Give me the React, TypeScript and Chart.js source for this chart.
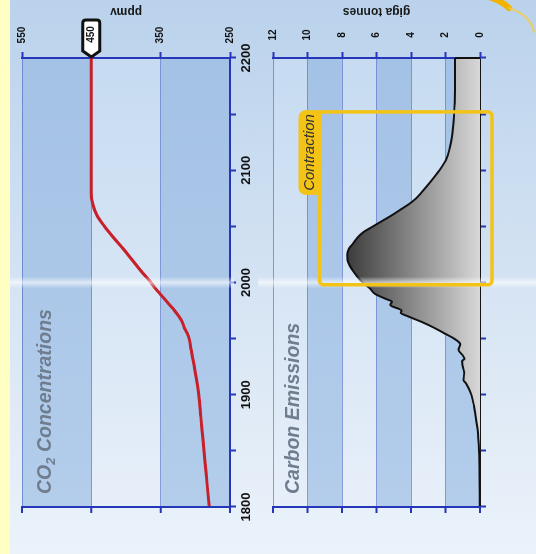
import React, { useEffect, useRef } from 'react';
import { Chart, registerables } from 'chart.js';

Chart.register(...registerables);

// Atmospheric CO2 concentration, ppmv
const co2Years = [1800, 1820, 1840, 1860, 1880, 1900, 1920, 1940, 1950, 1955, 1960, 1965, 1970, 1975, 1980, 1985, 1990, 1995, 2000, 2010, 2020, 2030, 2040, 2050, 2060, 2070, 2080, 2100, 2150, 2200];
const co2Ppmv = [280, 283, 286, 289, 292, 295, 300, 306, 309, 312, 316, 319, 324, 330, 337, 344, 351, 358, 364, 378, 391, 404, 418, 431, 442, 448, 450, 450, 450, 450];

// Carbon emissions, giga tonnes per year
const emissionYears = [1800, 1830, 1850, 1870, 1880, 1890, 1900, 1910, 1913, 1920, 1925, 1930, 1932, 1935, 1940, 1945, 1950, 1955, 1960, 1965, 1970, 1973, 1975, 1980, 1983, 1985, 1990, 1995, 2000, 2005, 2010, 2015, 2020, 2025, 2030, 2035, 2040, 2045, 2050, 2055, 2060, 2065, 2070, 2075, 2080, 2090, 2100, 2110, 2120, 2130, 2140, 2150, 2160, 2200];
const emissionGt = [0.01, 0.03, 0.06, 0.15, 0.25, 0.35, 0.5, 0.8, 0.95, 0.92, 1.0, 1.05, 0.9, 1.0, 1.25, 1.15, 1.5, 2.1, 2.7, 3.4, 4.2, 4.6, 4.55, 5.2, 5.1, 5.4, 6.1, 6.4, 6.8, 7.1, 7.35, 7.55, 7.68, 7.7, 7.6, 7.35, 7.1, 6.75, 6.2, 5.65, 5.1, 4.6, 4.1, 3.7, 3.4, 2.85, 2.35, 1.95, 1.75, 1.62, 1.55, 1.5, 1.47, 1.45];

// Axis ranges and tick labels
const yearRange = [1800, 2200];
const ppmvTicks = [250, 350, 450, 550];
const gtTicks = [0, 2, 4, 6, 8, 10, 12];
const stabilisedPpmv = 450;
const todayYear = 2000;

// Contraction period and its frame height (giga tonnes)
const contractionYears = [1998, 2152];
const contractionTopGt = 9.3;

const W = 554;
const H = 536;
const FONT = '"Liberation Sans", Arial, Helvetica, sans-serif';
const AXIS_BLUE = '#2536B8';
const GRID_BLUE = 'rgba(60,90,190,0.55)';
const TITLE_SIZE = 19.5;

function yearAxis(showLabels: boolean, borderColor: string) {
  return {
    type: 'linear',
    position: 'bottom',
    min: yearRange[0],
    max: yearRange[1],
    afterFit: (s: any) => { s.height = 30; },
    ticks: {
      stepSize: 50,
      autoSkip: false,
      maxRotation: 0,
      minRotation: 0,
      padding: 3,
      color: '#111',
      font: { family: FONT, size: 13, weight: 'bold' },
      callback: (v: any) => (showLabels && Number(v) % 100 === 0 ? String(v) : ''),
    },
    grid: { drawOnChartArea: false, drawTicks: true, tickLength: 6, tickColor: AXIS_BLUE, tickWidth: 2 },
    border: { display: true, color: borderColor, width: 2 },
  };
}

function valueAxis(ticks: number[], pad: number) {
  return {
    type: 'linear',
    position: 'right',
    min: ticks[0],
    max: ticks[ticks.length - 1],
    afterFit: (s: any) => { s.width = 46; },
    ticks: {
      stepSize: ticks[1] - ticks[0],
      padding: pad,
      crossAlign: 'center',
      color: '#111',
      font: { family: FONT, size: 10, weight: 'bold' },
    },
    grid: { color: GRID_BLUE, lineWidth: 1, tickLength: 6, tickColor: AXIS_BLUE, tickWidth: 2 },
    border: { display: true, color: AXIS_BLUE, width: 2 },
  };
}

// Alternating horizontal bands between value ticks, darker band first from the bottom
function bandsPlugin(ticks: number[]) {
  return {
    id: 'bands',
    beforeDraw(chart: any) {
      const { ctx, chartArea, scales } = chart;
      const { left, right } = chartArea;
      const dark = ctx.createLinearGradient(left, 0, right, 0);
      dark.addColorStop(0, '#B3CDEB');
      dark.addColorStop(1, '#A4C2E6');
      const light = ctx.createLinearGradient(left, 0, right, 0);
      light.addColorStop(0, '#E7EFF9');
      light.addColorStop(1, '#C6DBF1');
      ctx.save();
      for (let i = 0; i < ticks.length - 1; i++) {
        const top = scales.y.getPixelForValue(ticks[i + 1]);
        const bottom = scales.y.getPixelForValue(ticks[i]);
        ctx.fillStyle = i % 2 === 0 ? dark : light;
        ctx.fillRect(left, top, right - left, bottom - top);
      }
      ctx.restore();
    },
  };
}

// Left frame edge with outward tick marks
const leftFramePlugin = {
  id: 'leftFrame',
  afterDraw(chart: any) {
    const { ctx, chartArea, scales } = chart;
    const { left, top, bottom } = chartArea;
    ctx.save();
    ctx.strokeStyle = AXIS_BLUE;
    ctx.lineWidth = 2;
    ctx.beginPath();
    ctx.moveTo(left, top - 1);
    ctx.lineTo(left, bottom + 1);
    scales.y.ticks.forEach((t: any) => {
      const y = scales.y.getPixelForValue(t.value);
      ctx.moveTo(left - 6, y);
      ctx.lineTo(left, y);
    });
    ctx.stroke();
    ctx.restore();
  },
};

function drawUnit(ctx: any, text: string, v: number) {
  ctx.save();
  ctx.translate(543, v);
  ctx.rotate(-Math.PI / 2);
  ctx.font = `bold 12px ${FONT}`;
  ctx.fillStyle = '#1a1a1a';
  ctx.textAlign = 'center';
  ctx.textBaseline = 'middle';
  ctx.fillText(text, 0, 0);
  ctx.restore();
}

const co2Decor = {
  id: 'co2Decor',
  afterDraw(chart: any) {
    const { ctx, chartArea, scales } = chart;
    ctx.save();
    // panel title
    ctx.fillStyle = '#6F7D8E';
    ctx.textBaseline = 'alphabetic';
    const x0 = chartArea.left + 13;
    const base = chartArea.top + 29;
    ctx.font = `italic bold ${TITLE_SIZE}px ${FONT}`;
    ctx.fillText('CO', x0, base);
    let x = x0 + ctx.measureText('CO').width;
    ctx.font = `italic bold 13px ${FONT}`;
    ctx.fillText('2', x, base + 4);
    x += ctx.measureText('2').width;
    ctx.font = `italic bold ${TITLE_SIZE}px ${FONT}`;
    ctx.fillText(' Concentrations', x, base);
    ctx.restore();

    drawUnit(ctx, 'ppmv', (chartArea.top + chartArea.bottom) / 2);

    // stabilisation callout at the end of the line
    const v = scales.y.getPixelForValue(stabilisedPpmv);
    const tip = chartArea.right + 1;
    const l = tip + 6;
    const r = tip + 37;
    const hh = 8.5;
    ctx.save();
    ctx.beginPath();
    ctx.moveTo(tip, v);
    ctx.lineTo(l, v - hh);
    ctx.lineTo(r - 3, v - hh);
    ctx.quadraticCurveTo(r, v - hh, r, v - hh + 3);
    ctx.lineTo(r, v + hh - 3);
    ctx.quadraticCurveTo(r, v + hh, r - 3, v + hh);
    ctx.lineTo(l, v + hh);
    ctx.closePath();
    ctx.fillStyle = '#ffffff';
    ctx.fill();
    ctx.lineWidth = 3;
    ctx.strokeStyle = '#111';
    ctx.stroke();
    ctx.fillStyle = '#111';
    ctx.font = `bold 10px ${FONT}`;
    ctx.textAlign = 'center';
    ctx.textBaseline = 'middle';
    ctx.fillText(String(stabilisedPpmv), (l + r) / 2 + 1, v);
    ctx.restore();
  },
};

const emissionDecor = {
  id: 'emissionDecor',
  afterDatasetsDraw(chart: any) {
    const { ctx, scales } = chart;
    const last = emissionGt[emissionGt.length - 1];
    const xe = scales.x.getPixelForValue(emissionYears[emissionYears.length - 1]);
    ctx.save();
    ctx.strokeStyle = '#111';
    ctx.lineWidth = 2;
    ctx.beginPath();
    ctx.moveTo(xe, scales.y.getPixelForValue(last));
    ctx.lineTo(xe, scales.y.getPixelForValue(0));
    ctx.stroke();
    ctx.restore();
  },
  afterDraw(chart: any) {
    const { ctx, chartArea, scales } = chart;
    ctx.save();
    ctx.fillStyle = '#6F7D8E';
    ctx.font = `italic bold ${TITLE_SIZE}px ${FONT}`;
    ctx.textBaseline = 'alphabetic';
    ctx.fillText('Carbon Emissions', chartArea.left + 13, chartArea.top + 26);
    ctx.restore();

    drawUnit(ctx, 'giga tonnes', (chartArea.top + chartArea.bottom) / 2);

    // light streak at the present day
    const u = scales.x.getPixelForValue(todayYear);
    const g = ctx.createLinearGradient(u - 6, 0, u + 6, 0);
    g.addColorStop(0, 'rgba(255,255,255,0)');
    g.addColorStop(0.5, 'rgba(255,255,255,0.6)');
    g.addColorStop(1, 'rgba(255,255,255,0)');
    ctx.save();
    ctx.fillStyle = g;
    ctx.fillRect(u - 6, 10, 12, 224);
    ctx.fillRect(u - 6, 258, 12, H - 258);
    ctx.restore();

    // contraction frame with its tab
    const bl = scales.x.getPixelForValue(contractionYears[0]);
    const br = scales.x.getPixelForValue(contractionYears[1]);
    const bt = scales.y.getPixelForValue(contractionTopGt);
    const bb = scales.y.getPixelForValue(0) + 12;
    const yellow = '#F3C316';
    ctx.save();
    ctx.strokeStyle = yellow;
    ctx.lineWidth = 3.5;
    ctx.beginPath();
    ctx.roundRect(bl, bt, br - bl, bb - bt, 4);
    ctx.stroke();
    const tl = br - 83;
    const tr = br + 1.75;
    const tt = bt - 21;
    ctx.fillStyle = yellow;
    ctx.beginPath();
    ctx.roundRect(tl, tt, tr - tl, bt - tt + 1.75, [7, 7, 0, 0]);
    ctx.fill();
    ctx.fillStyle = '#333';
    ctx.font = `italic 15px ${FONT}`;
    ctx.textAlign = 'center';
    ctx.textBaseline = 'alphabetic';
    ctx.fillText('Contraction', (tl + tr) / 2, bt - 6);
    ctx.restore();

    // yellow swoosh in the corner
    ctx.save();
    ctx.lineCap = 'round';
    ctx.strokeStyle = '#EFB300';
    ctx.lineWidth = 6;
    ctx.beginPath();
    ctx.moveTo(557, 489);
    ctx.quadraticCurveTo(553, 502, 546, 509);
    ctx.stroke();
    ctx.strokeStyle = 'rgba(240,205,80,0.9)';
    ctx.lineWidth = 2;
    ctx.beginPath();
    ctx.moveTo(546, 509);
    ctx.bezierCurveTo(541, 524, 534, 531, 522, 534);
    ctx.stroke();
    ctx.restore();
  },
};

const baseOptions = {
  responsive: false,
  animation: false,
  devicePixelRatio: 1,
  events: [],
  plugins: { legend: { display: false }, tooltip: { enabled: false } },
};

export default function App() {
  const co2Ref = useRef<HTMLCanvasElement>(null);
  const emRef = useRef<HTMLCanvasElement>(null);

  useEffect(() => {
    const co2Chart = new Chart(co2Ref.current as HTMLCanvasElement, {
      type: 'line',
      data: {
        datasets: [
          {
            data: co2Years.map((x, i) => ({ x, y: co2Ppmv[i] })),
            borderColor: '#C8202A',
            borderWidth: 3,
            pointRadius: 0,
            fill: false,
            cubicInterpolationMode: 'monotone',
          },
        ],
      },
      options: {
        ...baseOptions,
        layout: { padding: { left: 47, top: 22, right: 12, bottom: 276 } },
        scales: { x: yearAxis(true, AXIS_BLUE), y: valueAxis(ppmvTicks, 8.6) },
      } as any,
      plugins: [bandsPlugin(ppmvTicks), leftFramePlugin, co2Decor],
    });

    const emChart = new Chart(emRef.current as HTMLCanvasElement, {
      type: 'line',
      data: {
        datasets: [
          {
            data: emissionYears.map((x, i) => ({ x, y: emissionGt[i] })),
            borderColor: '#111',
            borderWidth: 2,
            pointRadius: 0,
            fill: 'origin',
            cubicInterpolationMode: 'monotone',
            backgroundColor: (c: any) => {
              const { chart } = c;
              if (!chart.chartArea) return '#888';
              const y = chart.scales.y;
              const g = chart.ctx.createLinearGradient(0, y.getPixelForValue(8), 0, y.getPixelForValue(0));
              g.addColorStop(0, '#363636');
              g.addColorStop(1, '#D8D8D8');
              return g;
            },
          },
        ],
      },
      options: {
        ...baseOptions,
        layout: { padding: { left: 47, top: 273, right: 12, bottom: 26 } },
        scales: { x: yearAxis(false, '#151515'), y: valueAxis(gtTicks, 11.4) },
      } as any,
      plugins: [bandsPlugin(gtTicks), leftFramePlugin, emissionDecor],
    });

    return () => {
      co2Chart.destroy();
      emChart.destroy();
    };
  }, []);

  const canvasStyle: React.CSSProperties = { position: 'absolute', left: 0, top: 0, width: W, height: H };

  return (
    <div style={{ position: 'fixed', left: 0, top: 0, width: H, height: W, overflow: 'hidden', background: '#EAF1F9' }}>
      <div
        style={{
          position: 'absolute',
          left: 0,
          top: 0,
          width: W,
          height: H,
          transformOrigin: '0 0',
          transform: `translateY(${W}px) rotate(-90deg)`,
          background: 'linear-gradient(to right, #EBF2FA 0%, #DCE8F5 35%, #BAD2EC 100%)',
        }}
      >
        <div style={{ position: 'absolute', left: 0, top: 0, width: W, height: 10, background: '#FFFFC4' }} />
        <canvas ref={co2Ref} width={W} height={H} style={canvasStyle} />
        <canvas ref={emRef} width={W} height={H} style={canvasStyle} />
      </div>
    </div>
  );
}
